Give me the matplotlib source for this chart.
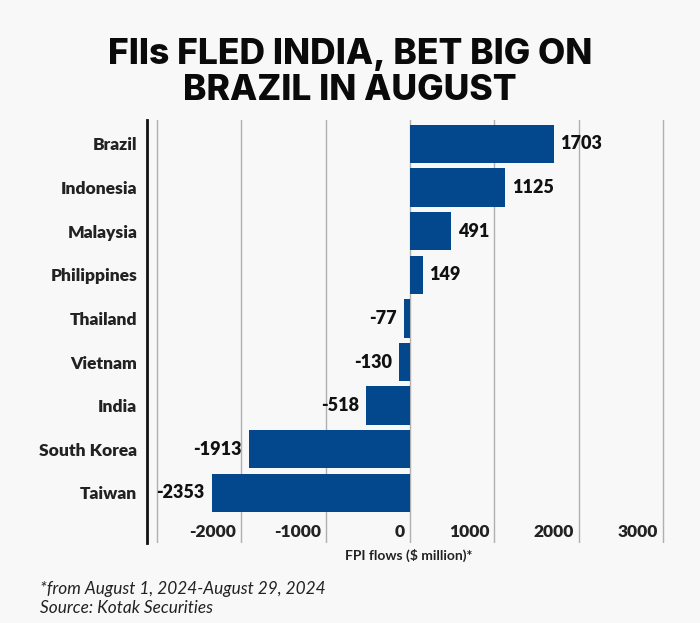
import matplotlib
matplotlib.use("Agg")
import matplotlib.pyplot as plt
import matplotlib.transforms as mtransforms

countries = ["Brazil", "Indonesia", "Malaysia", "Philippines", "Thailand",
             "Vietnam", "India", "South Korea", "Taiwan"]
flows = [1703, 1125, 491, 149, -77, -130, -518, -1913, -2353]
xticks = [-3000, -2000, -1000, 0, 1000, 2000, 3000]
xtick_labels = ["", "-2000", "-1000", "0", "1000", "2000", "3000"]

bar_color = "#03478C"
bg = "#f8f8f8"

fig = plt.figure(figsize=(7, 6.23), dpi=100, facecolor=bg)
ax = fig.add_axes([0.21, 0.1284, 0.749, 0.679])
ax.set_facecolor("none")

ypos = list(range(len(countries)))
ax.barh(ypos, flows, height=0.88, color=bar_color, zorder=3)

for y, v in zip(ypos, flows):
    off = 5 if v >= 0 else -5
    ax.annotate(f"{v}", (v, y), xytext=(off, 0), textcoords="offset points",
                ha="left" if v >= 0 else "right", va="center",
                fontsize=13, fontweight="heavy", family="Lato", color="#111111")

ax.set_xlim(-3120, 3100)
ax.set_ylim(9.15, -0.55)
ax.set_yticks(ypos, countries)
ax.set_xticks(xticks, xtick_labels)
ax.tick_params(axis="y", length=0, pad=7)
ax.tick_params(axis="x", length=0, pad=-14)
for lab in ax.get_yticklabels():
    lab.set_fontsize(12.5)
    lab.set_fontweight("heavy")
    lab.set_family("Lato")
    lab.set_color("#222222")
shift = mtransforms.ScaledTranslation(-5 / 100, 0, fig.dpi_scale_trans)
for lab in ax.get_xticklabels():
    lab.set_fontsize(12.5)
    lab.set_fontweight("heavy")
    lab.set_family("Lato")
    lab.set_color("#222222")
    lab.set_ha("right")
    lab.set_transform(lab.get_transform() + shift)

ax.grid(axis="x", color="#b0b0b0", linewidth=1, zorder=0)
ax.grid(axis="y", visible=False)
for s in ["top", "right", "bottom"]:
    ax.spines[s].set_visible(False)
ax.spines["left"].set_linewidth(2)
ax.spines["left"].set_color("#111111")

ax.set_xlabel("FPI flows ($ million)*", fontsize=10, fontweight="bold",
              family="Lato", color="#222222", labelpad=4)

fig.text(0.5, 0.8973, "FIIs FLED INDIA, BET BIG ON", ha="center", va="baseline",
         fontsize=25.5, fontweight="heavy", family="Inter", color="#0a0a0a")
fig.text(0.5, 0.8395, "BRAZIL IN AUGUST", ha="center", va="baseline",
         fontsize=25.5, fontweight="heavy", family="Inter", color="#0a0a0a")

fig.text(0.057, 0.0473, "*from August 1, 2024-August 29, 2024", ha="left", va="baseline",
         fontsize=12.4, style="italic", family="Lato", color="#222222")
fig.text(0.057, 0.016, "Source: Kotak Securities", ha="left", va="baseline",
         fontsize=12.4, style="italic", family="Lato", color="#222222")

fig.savefig("out.png", dpi=100, facecolor=bg)
